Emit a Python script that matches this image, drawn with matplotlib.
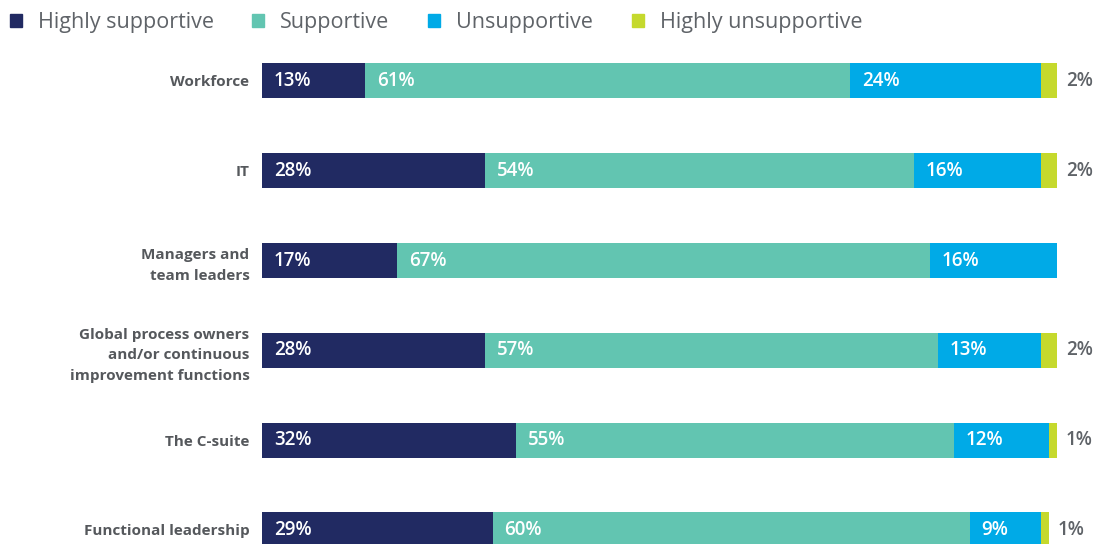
import numpy as np
import matplotlib.pyplot as plt
from matplotlib.patches import Patch

plt.rcParams['font.family'] = ['Open Sans', 'DejaVu Sans']

# Data
categories = ['Workforce', 'IT', 'Managers and\nteam leaders',
              'Global process owners\nand/or continuous\nimprovement functions',
              'The C-suite', 'Functional leadership']
series = ['Highly supportive', 'Supportive', 'Unsupportive', 'Highly unsupportive']
highly_supportive = [13, 28, 17, 28, 32, 29]
supportive = [61, 54, 67, 57, 55, 60]
unsupportive = [24, 16, 16, 13, 12, 9]
highly_unsupportive = [2, 2, 0, 2, 1, 1]

colors = ['#212a62', '#62c5b1', '#00aae7', '#c5d92d']
values = [highly_supportive, supportive, unsupportive, highly_unsupportive]

fig = plt.figure(figsize=(10.95, 5.44), dpi=100)
ax = fig.add_axes([262 / 1095, 0, 795 / 1095, 508 / 544])

y = np.arange(len(categories))
left = np.zeros(len(categories))
for i, (vals, c) in enumerate(zip(values, colors)):
    vals = np.array(vals, dtype=float)
    ax.barh(y, vals, left=left, height=0.39, color=c, linewidth=0)
    for j, v in enumerate(vals):
        if v == 0:
            continue
        if i < 3:
            ax.text(left[j] + 1.5, y[j], f'{int(v)}%', color='white',
                    fontsize=13.5, fontweight='semibold', va='center', ha='left')
        else:
            ax.text(left[j] + v + 1.1, y[j], f'{int(v)}%', color='#5f6368',
                    fontsize=13.5, fontweight='semibold', va='center', ha='left')
    left += vals

ax.set_xlim(0, 100)
ax.set_ylim(5.156, -0.5)
ax.set_yticks(y)
ax.set_yticklabels(categories, fontsize=11, fontweight='bold',
                   color='#55585c', linespacing=1.6)
ax.tick_params(axis='y', length=0, pad=9)
ax.set_xticks([])
for s in ax.spines.values():
    s.set_visible(False)

handles = [Patch(color=c) for c in colors]
fig.legend(handles, series, loc='upper left', bbox_to_anchor=(0.0, 0.996),
           ncol=4, frameon=False, fontsize=15.5, labelcolor='#5f6368',
           handlelength=0.55, handleheight=0.55, handletextpad=0.75,
           columnspacing=1.8, borderaxespad=0.05, borderpad=0.4)

fig.savefig('out.png', dpi=100)
